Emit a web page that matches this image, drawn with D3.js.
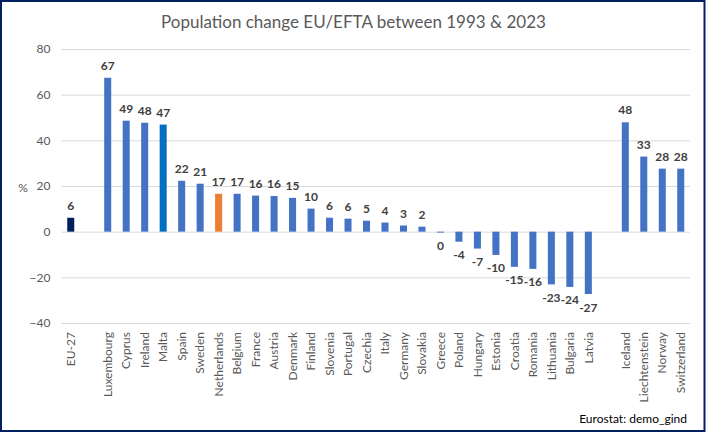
<!DOCTYPE html>
<html>
<head>
<meta charset="utf-8">
<script src="https://cdn.jsdelivr.net/npm/d3@7"></script>
<style>
  html, body { margin: 0; padding: 0; background: #fff; }
  svg { display: block; font-family: Lato, "Open Sans", sans-serif; }
</style>
</head>
<body>
<svg id="chart" width="706" height="433"></svg>
<script>
// ---- data ----
const categories = ["EU-27", "", "Luxembourg", "Cyprus", "Ireland", "Malta", "Spain", "Sweden",
  "Netherlands", "Belgium", "France", "Austria", "Denmark", "Finland", "Slovenia", "Portugal",
  "Czechia", "Italy", "Germany", "Slovakia", "Greece", "Poland", "Hungary", "Estonia", "Croatia",
  "Romania", "Lithuania", "Bulgaria", "Latvia", "", "Iceland", "Liechtenstein", "Norway", "Switzerland"];
const values = [6.1, null, 67.4, 48.6, 47.7, 46.9, 22.3, 21.0,
  16.6, 16.6, 15.8, 15.6, 14.8, 10.1, 6.1, 5.7,
  4.8, 4.0, 2.7, 2.2, -0.4, -4.4, -7.4, -10.2, -15.4,
  -16.3, -23.1, -24.2, -27.3, null, 47.9, 32.9, 27.6, 27.6];
const yTicks = [-40, -20, 0, 20, 40, 60, 80];
const title = "Population change EU/EFTA between 1993 & 2023";
const source = "Eurostat: demo_gind";

// ---- styles ----
const baseColor = "#4472C4";
const highlight = { "EU-27": "#002060", "Malta": "#0070C0", "Netherlands": "#ED7D31" };

const svg = d3.select("#chart");
const W = 706, H = 433;

const data = categories.map((c, i) => ({ i, name: c, value: values[i] }));

const x = d3.scaleBand().domain(d3.range(categories.length))
  .range([61.5, 690]).paddingInner(0.62).paddingOuter(0.31);
const y = d3.scaleLinear().domain([-40, 80]).range([323, 49]);

// border
svg.append("rect").attr("x", 1).attr("y", 1).attr("width", W - 2.5).attr("height", H - 3)
  .attr("fill", "none").attr("stroke", "#002060").attr("stroke-width", 2);

// title
svg.append("text").attr("x", 353.5).attr("y", 28).attr("text-anchor", "middle")
  .attr("font-size", 17).attr("fill", "#595959").text(title);

// y axis with gridlines
const yAxis = svg.append("g").attr("transform", "translate(61.5,0)")
  .call(d3.axisLeft(y).tickValues(yTicks).tickSize(-(690 - 61.5)).tickPadding(11).tickFormat(d3.format("d")));
yAxis.select(".domain").remove();
yAxis.selectAll(".tick line").attr("stroke", "#D9D9D9").attr("stroke-width", 1);
yAxis.selectAll(".tick text").attr("font-size", 12).attr("fill", "#595959")
  .attr("font-family", "Lato, sans-serif");

svg.append("text").attr("x", 23).attr("y", 192).attr("text-anchor", "middle")
  .attr("font-size", 12).attr("fill", "#595959").text("%");

// bars
const valid = data.filter(d => d.value !== null);
svg.append("g").selectAll("rect").data(valid).join("rect")
  .attr("x", d => x(d.i))
  .attr("width", x.bandwidth())
  .attr("y", d => Math.min(y(d.value), y(0)))
  .attr("height", d => Math.abs(y(d.value) - y(0)))
  .attr("fill", d => highlight[d.name] || baseColor);

// data labels
svg.append("g").selectAll("text").data(valid).join("text")
  .attr("x", d => x(d.i) + x.bandwidth() / 2)
  .attr("y", d => d.value >= 0 ? y(d.value) - 8 : y(d.value) + 17.5)
  .attr("text-anchor", "middle")
  .attr("font-size", 12).attr("font-weight", "bold").attr("fill", "#404040")
  .text(d => String(Math.round(d.value)).replace("-0", "0"));

// x labels
svg.append("g").selectAll("text").data(data.filter(d => d.name !== "")).join("text")
  .attr("transform", d => `translate(${x(d.i) + x.bandwidth() / 2},332) rotate(-90)`)
  .attr("text-anchor", "end").attr("dy", "0.35em")
  .attr("font-size", 12).attr("fill", "#595959")
  .text(d => d.name);

// source
svg.append("text").attr("x", 687).attr("y", 423).attr("text-anchor", "end")
  .attr("font-size", 12).attr("fill", "#000").text(source);
</script>
</body>
</html>
